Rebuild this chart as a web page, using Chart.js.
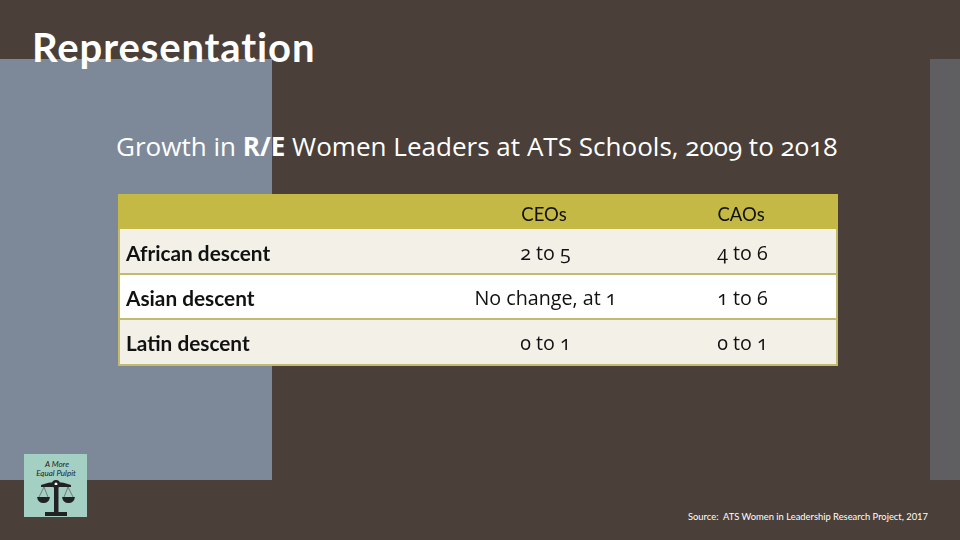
<!DOCTYPE html>
<html>
<head>
<meta charset="utf-8">
<title>Representation</title>
<script src="https://cdn.jsdelivr.net/npm/chart.js@4"></script>
<style>
  html, body { margin: 0; padding: 0; }
  body { width: 960px; height: 540px; position: relative; overflow: hidden; background: #4a3f39; font-family: Lato, sans-serif; }
  .panel { position: absolute; }
  #bluePanel { left: 0; top: 59px; width: 272px; height: 421px; background: #7d8999; }
  #greyPanel { left: 930px; top: 59px; width: 30px; height: 421px; background: #5f5e60; }
  #heading { position: absolute; left: 32px; top: 23px; color: #fff; font: 700 40px Lato, sans-serif; white-space: nowrap; letter-spacing: 0.9px; }
  #subheading { position: absolute; left: 116px; top: 128px; color: #fff; font: 500 26.05px "Open Sans", sans-serif; font-feature-settings: "onum"; white-space: nowrap; }
  #source { position: absolute; left: 688px; top: 511px; color: #fff; font: 400 9.4px Lato, sans-serif; white-space: nowrap; }
  #tableChart { position: absolute; left: 118px; top: 194px; }
  #logo { position: absolute; left: 24px; top: 454px; }
  .cell { position: absolute; transform: translate(calc(-50% + 1.5px), -50%); color: #111; font: 400 19.7px "Open Sans", sans-serif; font-feature-settings: "onum"; white-space: nowrap; }
</style>
</head>
<body>
<div class="panel" id="bluePanel"></div>
<div class="panel" id="greyPanel"></div>
<div id="heading">Representation</div>
<div id="subheading">Growth in <b>R/E</b> Women Leaders at ATS Schools, 2009 to 2018</div>
<canvas id="tableChart" width="720" height="172"></canvas>
<svg id="logo" width="63" height="63" viewBox="0 0 63 63">
  <rect width="63" height="63" fill="#a4d0c4"/>
  <text x="33" y="13" text-anchor="middle" font-family="Lato" font-style="italic" font-size="8" fill="#222">A More</text>
  <text x="32" y="22" text-anchor="middle" font-family="Lato" font-style="italic" font-size="8" fill="#222">Equal Pulpit</text>
  <path d="M17 31 Q32 25 47 31 L47 33 L17 33 Z" fill="#222"/>
  <circle cx="32" cy="30" r="4" fill="#222"/><circle cx="32" cy="30" r="1.5" fill="#fff"/>
  <rect x="30" y="31" width="4.5" height="27" fill="#222"/>
  <rect x="21" y="58" width="22" height="4" fill="#222"/>
  <path d="M13 43 L26 43 Q25 49 19.500 49 Q14 49 13 43 Z M38 43 L51 43 Q50 49 44.500 49 Q39 49 38 43 Z" fill="#222"/>
  <path d="M20 33 L15 43 M20 33 L24 43 M44 33 L40 43 M44 33 L49 43" stroke="#444" stroke-width=".6" fill="none"/>
</svg>
<div id="source">Source:&nbsp; ATS Women in Leadership Research Project, 2017</div>

<script>
const rowLabels = ['African descent', 'Asian descent', 'Latin descent'];
const columnLabels = ['CEOs', 'CAOs'];
const ceoCells = ['2 to 5', 'No change, at 1', '0 to 1'];
const caoCells = ['4 to 6', '1 to 6', '0 to 1'];
const rowColors = ['#f3f0e8', '#ffffff', '#f3f0e8'];

// x runs in column units, the negative part is the row label column
const xMin = -1.652;
const xMax = 1.982;
const bands = rowLabels.map(() => [xMin, xMax]);

const gold = '#c3b944';
const edge = '#c2ba6c';
const ink = '#111111';

// fills the border and the header strip behind the plot
const tableBackground = {
  id: 'tableBackground',
  beforeDraw(chart) {
    const { ctx, width, chartArea } = chart;
    ctx.save();
    ctx.fillStyle = edge;
    ctx.fillRect(0, 0, width, chart.height);
    ctx.fillStyle = gold;
    ctx.fillRect(0, 0, width, chartArea.top);
    ctx.restore();
  }
};

// canvas text has no old style figures, so the cells are page text placed from the scales
const cellText = {
  id: 'cellText',
  afterDraw(chart) {
    const { canvas, scales } = chart;
    [ceoCells, caoCells].forEach((cells, col) => {
      cells.forEach((txt, row) => {
        const el = document.createElement('div');
        el.className = 'cell';
        el.textContent = txt;
        el.style.left = canvas.offsetLeft + scales.x.getPixelForValue(col + 0.5) + 'px';
        el.style.top = canvas.offsetTop + scales.y.getPixelForValue(row) + 'px';
        document.body.appendChild(el);
      });
    });
  }
};

new Chart(document.getElementById('tableChart'), {
  type: 'bar',
  data: {
    labels: rowLabels,
    datasets: [{
      data: bands,
      backgroundColor: rowColors,
      barPercentage: 1,
      categoryPercentage: 1
    }]
  },
  options: {
    indexAxis: 'y',
    responsive: false,
    animation: false,
    layout: { padding: { left: 2, right: 2, bottom: 2, top: 0 } },
    plugins: { legend: { display: false }, tooltip: { enabled: false } },
    scales: {
      x: {
        position: 'top',
        min: xMin,
        max: xMax,
        afterBuildTicks(scale) {
          scale.ticks = columnLabels.map((_, i) => ({ value: i + 0.5 }));
        },
        afterFit(scale) {
          scale.height = 35;
          scale.paddingLeft = 0;
          scale.paddingRight = 0;
        },
        grid: { display: false, drawTicks: false },
        border: { display: false },
        ticks: {
          autoSkip: false,
          maxRotation: 0,
          padding: 3,
          color: ink,
          font: { family: 'Lato', size: 18.5 },
          callback: (v) => columnLabels[Math.floor(v)]
        }
      },
      y: {
        afterFit(scale) {
          scale.width = 0;
          scale.paddingTop = 0;
          scale.paddingBottom = 0;
        },
        grid: {
          z: 1,
          drawTicks: false,
          lineWidth: 2,
          color: (c) => (c.index === 1 || c.index === 2 ? edge : 'transparent')
        },
        border: { display: false },
        ticks: {
          mirror: true,
          z: 1,
          padding: 6,
          color: ink,
          // blank first line with a short line height pushes the label down a bit
          callback: (v, i) => ['', rowLabels[i]],
          font: { family: 'Lato', size: 20.8, weight: '700', lineHeight: '5px' }
        }
      }
    }
  },
  plugins: [tableBackground, cellText]
});
</script>
</body>
</html>
